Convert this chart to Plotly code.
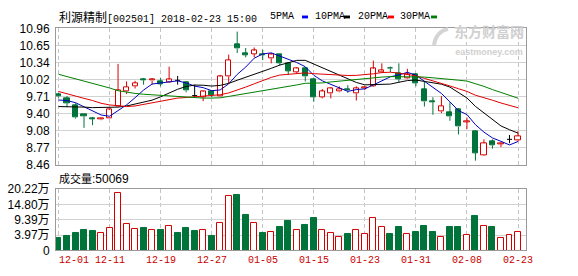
import plotly.graph_objects as go

# ---------------- data ----------------
dates = ["12-01", "12-04", "12-05", "12-06", "12-07", "12-08", "12-11", "12-12", "12-13", "12-14",
         "12-15", "12-18", "12-19", "12-20", "12-21", "12-22", "12-25", "12-26", "12-27", "12-28",
         "12-29", "01-02", "01-03", "01-04", "01-05", "01-08", "01-09", "01-10", "01-11", "01-12",
         "01-15", "01-16", "01-17", "01-18", "01-19", "01-22", "01-23", "01-24", "01-25", "01-26",
         "01-29", "01-30", "01-31", "02-01", "02-02", "02-05", "02-06", "02-07", "02-08", "02-09",
         "02-12", "02-13", "02-14", "02-22", "02-23"]

opens = [9.75, 9.68, 9.55, 9.39, 9.32, 9.29, 9.31, 9.53, 9.80, 9.90, 10.03, 10.00, 9.99, 9.97, 10.01,
         9.97, 9.73, 9.70, 9.81, 9.72, 10.08, 10.66, 10.51, 10.49, 10.48, 10.41, 10.48, 10.32, 10.16,
         10.22, 10.03, 9.70, 9.77, 9.80, 9.85, 9.77, 9.86, 9.90, 10.16, 10.23, 10.14, 10.04, 10.11,
         9.85, 9.62, 9.44, 9.43, 9.48, 9.25, 9.08, 8.64, 8.89, 8.84, 8.93, 8.91]
highs = [9.78, 9.72, 9.59, 9.39, 9.34, 9.32, 9.49, 10.31, 9.99, 10.00, 10.05, 10.05, 10.05, 10.26, 10.09,
         9.99, 9.93, 9.82, 9.83, 10.11, 10.48, 10.90, 10.60, 10.61, 10.57, 10.51, 10.49, 10.34, 10.25,
         10.25, 10.05, 9.85, 9.88, 9.90, 9.92, 9.90, 9.90, 10.37, 10.32, 10.26, 10.32, 10.22, 10.14,
         9.99, 9.70, 9.72, 9.61, 9.50, 9.33, 9.09, 8.93, 8.93, 8.86, 9.01, 9.08]
lows = [9.69, 9.52, 9.31, 9.14, 9.19, 9.28, 9.31, 9.52, 9.76, 9.86, 9.93, 9.93, 9.90, 9.96, 9.93,
        9.79, 9.70, 9.63, 9.70, 9.72, 9.96, 10.51, 10.43, 10.43, 10.38, 10.32, 10.28, 10.11, 10.14,
        9.99, 9.62, 9.68, 9.68, 9.79, 9.78, 9.64, 9.83, 9.89, 10.15, 10.16, 9.97, 10.03, 9.90,
        9.53, 9.38, 9.41, 9.27, 9.02, 9.12, 8.54, 8.63, 8.76, 8.79, 8.86, 8.89]
closes = [9.71, 9.59, 9.33, 9.35, 9.30, 9.31, 9.47, 9.83, 9.89, 9.96, 10.01, 10.02, 9.94, 10.02, 10.01,
          9.82, 9.73, 9.80, 9.74, 10.08, 10.38, 10.59, 10.47, 10.55, 10.47, 10.48, 10.32, 10.18, 10.23,
          10.08, 9.70, 9.81, 9.86, 9.85, 9.82, 9.86, 9.88, 10.22, 10.19, 10.22, 10.03, 10.12, 9.96,
          9.62, 9.61, 9.54, 9.35, 9.16, 9.26, 8.68, 8.86, 8.82, 8.85, 8.93, 8.99]

# volume, in 万 (value of each bar top on the volume axis)
volumes = [3.05, 3.61, 4.62, 5.63, 5.29, 4.84, 6.53, 18.76, 7.87, 6.19, 6.64, 5.63, 5.63, 7.20, 4.84,
           6.64, 5.29, 5.85, 3.61, 8.21, 17.64, 18.09, 11.02, 8.21, 4.62, 5.18, 6.98, 8.99, 5.85,
           7.65, 10.12, 5.63, 4.84, 3.39, 4.28, 5.63, 4.51, 9.89, 6.98, 4.28, 6.98, 4.28, 5.07,
           7.31, 5.07, 3.39, 6.75, 6.75, 3.95, 10.68, 7.31, 6.75, 3.05, 3.95, 5.01]

ma5 = [9.65, 9.64, 9.60, 9.53, 9.456, 9.376, 9.352, 9.452, 9.560, 9.692, 9.832, 9.942, 9.964, 9.990,
       10.000, 9.962, 9.904, 9.876, 9.820, 9.834, 9.946, 10.118, 10.252, 10.414, 10.492, 10.512,
       10.458, 10.400, 10.336, 10.258, 10.102, 10.000, 9.936, 9.860, 9.808, 9.840, 9.854, 9.926,
       9.994, 10.074, 10.108, 10.156, 10.104, 9.990, 9.868, 9.770, 9.616, 9.456, 9.384, 9.198,
       9.062, 8.956, 8.894, 8.828, 8.890]
ma10 = [9.53, 9.53, 9.52, 9.52, 9.51, 9.51, 9.51, 9.52, 9.54, 9.574, 9.604, 9.647, 9.708, 9.775,
        9.846, 9.897, 9.923, 9.920, 9.905, 9.917, 9.954, 10.011, 10.064, 10.117, 10.163, 10.229,
        10.288, 10.326, 10.375, 10.375, 10.307, 10.229, 10.168, 10.098, 10.033, 9.971, 9.927, 9.931,
        9.927, 9.941, 9.974, 10.005, 10.015, 9.992, 9.971, 9.939, 9.886, 9.780, 9.687, 9.533,
        9.416, 9.286, 9.175, 9.106, 9.044]
ma20 = [9.806, 9.76, 9.72, 9.68, 9.64, 9.59, 9.56, 9.54, 9.53, 9.54, 9.57, 9.60, 9.63, 9.66, 9.685,
        9.695, 9.705, 9.715, 9.725, 9.746, 9.779, 9.829, 9.886, 9.946, 10.005, 10.063, 10.106,
        10.123, 10.140, 10.146, 10.131, 10.120, 10.116, 10.108, 10.098, 10.100, 10.108, 10.129,
        10.151, 10.158, 10.141, 10.117, 10.092, 10.045, 10.002, 9.955, 9.907, 9.856, 9.807, 9.737,
        9.695, 9.646, 9.595, 9.549, 9.508]
ma30 = [10.12, 10.08, 10.03, 9.99, 9.95, 9.91, 9.87, 9.82, 9.79, 9.77, 9.755, 9.745, 9.735, 9.725,
        9.71, 9.70, 9.69, 9.685, 9.685, 9.69, 9.715, 9.74, 9.77, 9.79, 9.82, 9.845, 9.87, 9.895,
        9.925, 9.955, 9.955, 9.962, 9.980, 9.997, 10.014, 10.032, 10.046, 10.059, 10.069, 10.078,
        10.078, 10.082, 10.082, 10.069, 10.056, 10.046, 10.034, 10.012, 9.996, 9.950, 9.899, 9.840,
        9.786, 9.732, 9.683]

price_ticks = [10.96, 10.6475, 10.335, 10.0225, 9.71, 9.3975, 9.085, 8.7725, 8.46]
price_tick_text = ["10.96", "10.65", "10.34", "10.02", "9.71", "9.40", "9.08", "8.77", "8.46"]
vol_ticks = [20.22, 14.80, 9.39, 3.97, -1.45]
vol_tick_text = ["20.22万", "14.80万", "9.39万", "3.97万", "0"]
date_labels = ["12-01", "12-11", "12-19", "12-27", "01-05", "01-15", "01-23", "01-31", "02-08", "02-23"]

title_name = "利源精制"
title_rest = "[002501] 2018-02-23 15:00"
vol_title = "成交量"
last_volume = "50069"
ma_names = ["5PMA", "10PMA", "20PMA", "30PMA"]

# ---------------- styles ----------------
RED = "#d40000"
GREEN = "#00733a"
BLACK = "#000000"
MA_COLORS = ["#0000c0", "#000000", "#e00000", "#008000"]
KEY_COLORS = ["#0000ff", "#000000", "#ff0000", "#008000"]
W, H = 578, 276
X0, X1 = 56, 526
P_TOP, P_BOT = 22.5, 166.5
V_TOP, V_BOT = 191.7, 256.5
MONO = "Liberation Mono, DejaVu Sans Mono, Noto Sans CJK SC, monospace"
SANS = "Liberation Sans, Arial, Noto Sans CJK SC, sans-serif"
CJK = "Noto Sans CJK SC"

n = len(dates)
idx = list(range(n))
tick_pos = [dates.index(d) for d in date_labels]
VMIN = vol_ticks[-1]


def py(px):
    return 1 - px / H


def pxx(px):
    return px / W


fig = go.Figure()

up = [i for i in idx if closes[i] > opens[i]]
dn = [i for i in idx if closes[i] < opens[i]]
dj = [i for i in idx if closes[i] == opens[i]]

BODY_W = 0.6
# bodies
fig.add_trace(go.Bar(x=up, base=[opens[i] for i in up], y=[closes[i] - opens[i] for i in up],
                     width=BODY_W, marker=dict(color="white", line=dict(color=RED, width=1)),
                     xaxis="x", yaxis="y", hoverinfo="skip"))
fig.add_trace(go.Bar(x=dn, base=[closes[i] for i in dn], y=[opens[i] - closes[i] for i in dn],
                     width=BODY_W, marker=dict(color=GREEN, line=dict(color=GREEN, width=1)),
                     xaxis="x", yaxis="y", hoverinfo="skip"))


def wick_xy(ids, full=False):
    xs, ys = [], []
    for i in ids:
        top = max(opens[i], closes[i])
        bot = min(opens[i], closes[i])
        if full:
            xs += [i, i, None]
            ys += [lows[i], highs[i], None]
        else:
            xs += [i, i, None, i, i, None]
            ys += [highs[i], top, None, bot, lows[i], None]
    return xs, ys


for ids, col, full in [(up, RED, False), (dn, GREEN, False), (dj, BLACK, True)]:
    wx, wy = wick_xy(ids, full)
    fig.add_trace(go.Scatter(x=wx, y=wy, mode="lines", line=dict(color=col, width=1),
                             xaxis="x", yaxis="y", hoverinfo="skip"))

# doji horizontal tick
dx, dyv = [], []
for i in dj:
    dx += [i - BODY_W / 2, i + BODY_W / 2, None]
    dyv += [opens[i], opens[i], None]
fig.add_trace(go.Scatter(x=dx, y=dyv, mode="lines", line=dict(color=BLACK, width=1),
                         xaxis="x", yaxis="y", hoverinfo="skip"))

# moving averages
for ma, col in zip([ma5, ma10, ma20, ma30], MA_COLORS):
    fig.add_trace(go.Scatter(x=idx, y=ma, mode="lines", line=dict(color=col, width=1),
                             xaxis="x", yaxis="y", hoverinfo="skip"))

# volume
vup, vdn = [], []
for i in idx:
    if closes[i] > opens[i]:
        vup.append(i)
    elif closes[i] < opens[i]:
        vdn.append(i)
    else:
        prev = closes[i - 1] if i > 0 else closes[i]
        (vup if closes[i] >= prev else vdn).append(i)

VOL_W = 0.7
fig.add_trace(go.Bar(x=vup, base=[VMIN] * len(vup), y=[volumes[i] - VMIN for i in vup], width=VOL_W,
                     marker=dict(color="white", line=dict(color=RED, width=1)),
                     xaxis="x2", yaxis="y2", hoverinfo="skip"))
fig.add_trace(go.Bar(x=vdn, base=[VMIN] * len(vdn), y=[volumes[i] - VMIN for i in vdn], width=VOL_W,
                     marker=dict(color=GREEN, line=dict(color=GREEN, width=1)),
                     xaxis="x2", yaxis="y2", hoverinfo="skip"))

xrange = [-(58.5 - X0) / 8.51, n - 1 + (X1 - 518.0) / 8.51]
xcommon = dict(range=xrange, tickvals=tick_pos, showticklabels=False, ticks="",
               showgrid=True, gridcolor="#c4c4c4", griddash="4px,3px", gridwidth=1,
               showline=True, mirror=True, linecolor="#9a9a9a", linewidth=1, zeroline=False,
               domain=[pxx(X0), pxx(X1)], fixedrange=True)

fig.update_layout(
    width=W, height=H, margin=dict(l=0, r=0, t=0, b=0),
    paper_bgcolor="white", plot_bgcolor="white", showlegend=False,
    barmode="overlay", bargap=0,
    xaxis=dict(anchor="y", **xcommon),
    xaxis2=dict(anchor="y2", matches="x", **xcommon),
    yaxis=dict(domain=[py(P_BOT), py(P_TOP)], range=[price_ticks[-1], price_ticks[0]],
               tickvals=price_ticks, ticktext=price_tick_text, ticks="", ticklabelstandoff=3,
               tickfont=dict(family=SANS, size=12, color="#000"),
               showgrid=True, gridcolor="#d2d2d2", gridwidth=1, zeroline=False,
               showline=True, mirror=True, linecolor="#9a9a9a", linewidth=1, anchor="x"),
    yaxis2=dict(domain=[py(V_BOT), py(V_TOP)], range=[vol_ticks[-1], vol_ticks[0]],
                tickvals=vol_ticks, ticktext=vol_tick_text, ticks="", ticklabelstandoff=3,
                tickfont=dict(family=SANS, size=12, color="#000"),
                showgrid=True, gridcolor="#d2d2d2", gridwidth=1, zeroline=False,
                showline=True, mirror=True, linecolor="#9a9a9a", linewidth=1, anchor="x2"),
)

ann = []
# date labels
for k, d in enumerate(date_labels):
    ann.append(dict(x=tick_pos[k], xref="x", y=py(267), yref="paper", text=d, showarrow=False,
                    xanchor="center", yanchor="middle", xshift=15.5 if k == 0 else 0,
                    font=dict(family=MONO, size=10, color="#c80000")))
# header
ann.append(dict(x=pxx(57), xref="paper", y=py(10.5), yref="paper", xanchor="left", yanchor="middle",
                showarrow=False,
                text='<span style="font-family:%s;font-size:12px">%s</span>%s' % (CJK, title_name, title_rest),
                font=dict(family=MONO, size=10, color="#000")))
key_text_x = [268, 313, 356, 398]
key_box_x = [302, 344, 388, 431]
shapes = []
for name, tx, bx, col in zip(ma_names, key_text_x, key_box_x, KEY_COLORS):
    ann.append(dict(x=pxx(tx), xref="paper", y=py(10.5), yref="paper", xanchor="left",
                    yanchor="middle", showarrow=False, text=name,
                    font=dict(family=MONO, size=10, color="#000")))
    shapes.append(dict(type="rect", xref="paper", yref="paper", x0=pxx(bx), x1=pxx(bx + 6),
                       y0=py(12), y1=py(9), fillcolor=col, line=dict(width=0)))
# volume header
ann.append(dict(x=pxx(57), xref="paper", y=py(180), yref="paper", xanchor="left", yanchor="middle",
                showarrow=False,
                text='<span style="font-family:%s;font-size:11px">%s</span>:%s' % (CJK, vol_title, last_volume),
                font=dict(family=SANS, size=12, color="#000")))
# watermark (logo text as a single two-line text + small swoosh)
ann.append(dict(x=pxx(489), xref="paper", y=py(34), yref="paper", xanchor="center", yanchor="middle",
                showarrow=False,
                text='<b>东方财富网</b><br><span style="font-family:Liberation Sans;font-size:9px"><b>eastmoney.com</b></span>',
                font=dict(family=CJK, size=14, color="#d0d0d0")))
shapes.append(dict(type="path", xref="paper", yref="paper",
                   path="M %f %f Q %f %f %f %f" % (pxx(434), py(40), pxx(436), py(26), pxx(448), py(23)),
                   line=dict(color="#d4d4d4", width=4)))

fig.update_layout(annotations=ann, shapes=shapes)
fig.write_html("out.html")
